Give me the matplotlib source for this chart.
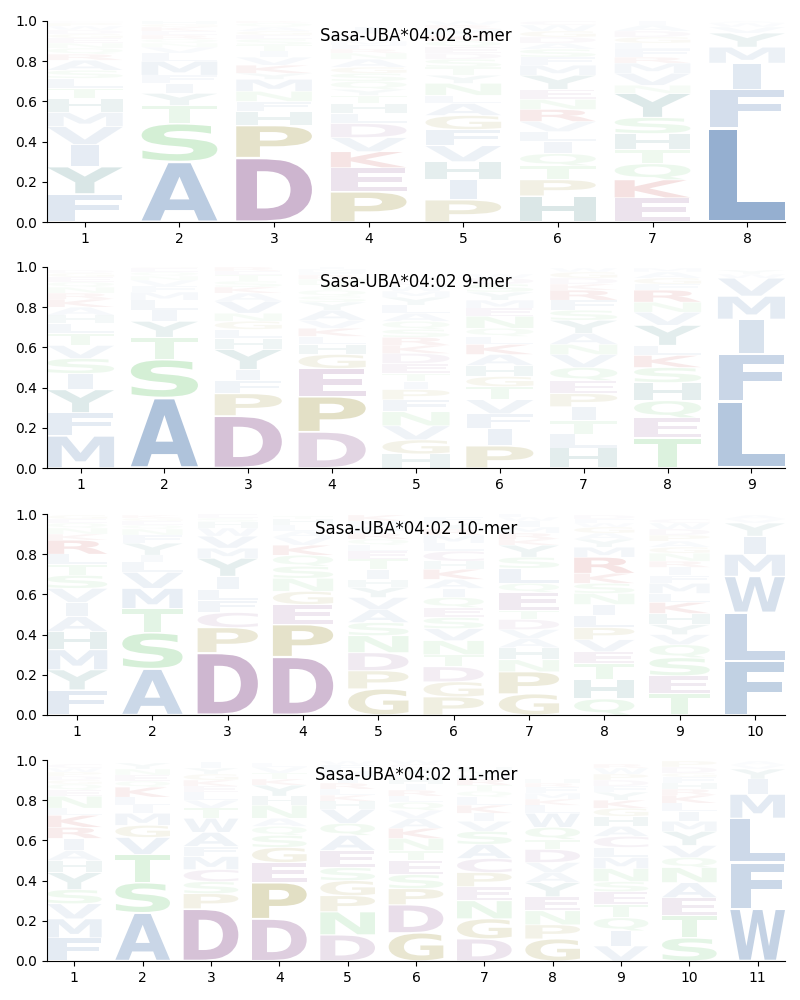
import matplotlib
matplotlib.use('Agg')
import matplotlib.pyplot as plt
from matplotlib.textpath import TextPath
from matplotlib.patches import PathPatch
from matplotlib.font_manager import FontProperties
from matplotlib.transforms import Affine2D

allele = 'Sasa-UBA*04:02'

# each column: (letter, probability) from the bottom of the stack to the top
mer8 = [
    [('F', .14), ('Y', .135), ('I', .11), ('V', .09), ('M', .07), ('H', .07), ('T', .05), ('L', .05), ('S', .04),
     ('A', .05), ('R', .03), ('Q', .03), ('N', .025), ('E', .025), ('G', .02), ('D', .02), ('W', .02), ('P', .015),
     ('C', .01), ('K', .01)],
    [('A', .30), ('S', .19), ('T', .09), ('Y', .06), ('I', .05), ('F', .04), ('M', .07), ('L', .04), ('V', .03),
     ('N', .02), ('Q', .02), ('R', .02), ('E', .02), ('K', .02), ('G', .015), ('H', .015)],
    [('D', .32), ('P', .16), ('H', .07), ('F', .05), ('N', .05), ('M', .06), ('Y', .03), ('K', .04), ('V', .04),
     ('I', .03), ('T', .03), ('S', .03), ('E', .02), ('G', .02), ('A', .02), ('Q', .02), ('R', .01)],
    [('P', .15), ('E', .12), ('K', .08), ('V', .07), ('D', .07), ('L', .05), ('H', .05), ('T', .04), ('Y', .03),
     ('Q', .04), ('S', .04), ('G', .03), ('A', .04), ('N', .03), ('R', .02), ('F', .02), ('M', .02), ('W', .02),
     ('C', .02), ('I', .03)],
    [('P', .11), ('I', .10), ('H', .09), ('V', .08), ('F', .08), ('G', .07), ('A', .06), ('L', .04), ('N', .06),
     ('Y', .04), ('T', .04), ('S', .04), ('D', .03), ('E', .03), ('Q', .03), ('K', .03), ('M', .03), ('R', .02),
     ('W', .02)],
    [('H', .13), ('P', .08), ('T', .07), ('Q', .06), ('I', .06), ('L', .05), ('V', .05), ('R', .06), ('N', .05),
     ('E', .05), ('Y', .07), ('M', .05), ('F', .04), ('S', .04), ('A', .03), ('D', .03), ('G', .03), ('W', .03),
     ('C', .02)],
    [('E', .12), ('K', .09), ('Q', .08), ('T', .07), ('H', .08), ('S', .08), ('Y', .12), ('N', .04), ('V', .06),
     ('M', .05), ('R', .03), ('F', .04), ('L', .03), ('G', .03), ('D', .03), ('A', .03), ('I', .02)],
    [('L', .47), ('F', .19), ('I', .13), ('M', .08), ('Y', .07), ('V', .03), ('W', .02), ('A', .01)],
]

mer9 = [
    [('M', .16), ('F', .115), ('Y', .115), ('I', .08), ('S', .075), ('V', .065), ('T', .06), ('L', .05), ('H', .04),
     ('A', .04), ('K', .04), ('R', .03), ('N', .03), ('Q', .025), ('E', .025), ('G', .02), ('D', .015)],
    [('A', .35), ('S', .19), ('T', .11), ('Y', .08), ('I', .055), ('L', .05), ('M', .04), ('F', .03), ('V', .03),
     ('N', .02), ('Q', .02), ('E', .02), ('G', .01)],
    [('D', .26), ('P', .11), ('F', .065), ('I', .055), ('Y', .10), ('H', .055), ('L', .045), ('G', .04), ('N', .04),
     ('V', .06), ('A', .04), ('K', .03), ('S', .03), ('T', .03), ('E', .02), ('R', .02)],
    [('D', .18), ('P', .175), ('E', .14), ('G', .07), ('H', .05), ('L', .04), ('K', .04), ('V', .04), ('A', .05),
     ('Y', .04), ('S', .03), ('Q', .03), ('T', .03), ('N', .025), ('R', .02), ('F', .015), ('M', .015), ('I', .015)],
    [('H', .07), ('G', .07), ('V', .07), ('N', .07), ('F', .06), ('P', .05), ('I', .04), ('T', .04), ('E', .05),
     ('D', .05), ('K', .04), ('R', .04), ('S', .04), ('Q', .04), ('A', .04), ('L', .04), ('Y', .04), ('M', .03),
     ('W', .03), ('C', .02)],
    [('P', .11), ('I', .085), ('F', .075), ('V', .07), ('T', .065), ('G', .05), ('H', .055), ('A', .055), ('K', .05),
     ('L', .04), ('Q', .04), ('N', .06), ('E', .04), ('M', .04), ('Y', .04), ('S', .04), ('D', .03), ('W', .02)],
    [('H', .10), ('L', .07), ('T', .065), ('I', .07), ('P', .065), ('E', .065), ('Q', .065), ('V', .065), ('N', .05),
     ('A', .055), ('Y', .065), ('S', .05), ('F', .05), ('R', .05), ('K', .03), ('D', .03), ('G', .03), ('W', .02)],
    [('T', .15), ('E', .10), ('Q', .085), ('H', .09), ('S', .075), ('K', .06), ('L', .05), ('Y', .10), ('V', .065),
     ('N', .05), ('R', .06), ('F', .03), ('G', .03), ('A', .03), ('M', .02)],
    [('L', .33), ('F', .24), ('I', .17), ('M', .115), ('V', .09), ('W', .02), ('Y', .02)],
]

mer10 = [
    [('F', .125), ('Y', .10), ('M', .10), ('H', .09), ('A', .075), ('I', .07), ('V', .07), ('S', .065), ('T', .055),
     ('L', .05), ('R', .07), ('K', .03), ('N', .03), ('Q', .025), ('E', .02), ('G', .02)],
    [('A', .23), ('S', .18), ('T', .12), ('M', .10), ('V', .08), ('L', .05), ('I', .035), ('Y', .06), ('F', .04),
     ('N', .03), ('Q', .02), ('E', .02), ('G', .015), ('K', .015)],
    [('D', .31), ('P', .125), ('C', .075), ('F', .06), ('L', .055), ('I', .065), ('Y', .09), ('M', .05), ('V', .06),
     ('W', .04), ('H', .03), ('S', .02), ('E', .02)],
    [('D', .29), ('P', .16), ('E', .10), ('G', .065), ('N', .065), ('S', .06), ('Q', .055), ('K', .05), ('V', .04),
     ('A', .03), ('L', .03), ('H', .03), ('T', .015)],
    [('G', .13), ('P', .09), ('D', .09), ('N', .085), ('S', .065), ('A', .065), ('V', .06), ('Y', .05), ('H', .04),
     ('I', .05), ('T', .05), ('E', .04), ('L', .03), ('Q', .03), ('R', .03), ('F', .03), ('M', .03), ('K', .03)],
    [('P', .09), ('G', .075), ('D', .075), ('T', .06), ('N', .07), ('V', .06), ('S', .055), ('E', .05), ('Q', .05),
     ('I', .045), ('A', .045), ('K', .05), ('H', .04), ('C', .05), ('L', .04), ('M', .04), ('R', .03), ('Y', .03),
     ('F', .03)],
    [('G', .105), ('P', .11), ('N', .06), ('H', .06), ('A', .045), ('V', .045), ('D', .05), ('T', .045), ('E', .09),
     ('Q', .045), ('L', .075), ('S', .055), ('Y', .06), ('K', .03), ('R', .03), ('M', .03), ('I', .03), ('W', .02),
     ('F', .02)],
    [('Q', .08), ('H', .095), ('T', .08), ('E', .06), ('V', .06), ('P', .06), ('L', .06), ('I', .055), ('N', .055),
     ('S', .05), ('K', .05), ('R', .08), ('M', .05), ('Y', .04), ('A', .03), ('G', .03), ('W', .02), ('F', .02),
     ('D', .02)],
    [('T', .105), ('E', .09), ('S', .09), ('Q', .065), ('V', .05), ('Y', .05), ('H', .055), ('K', .055), ('L', .045),
     ('M', .05), ('F', .04), ('I', .04), ('R', .03), ('N', .04), ('G', .03), ('A', .03), ('P', .03), ('D', .03),
     ('W', .03), ('C', .02)],
    [('F', .27), ('L', .24), ('W', .18), ('M', .11), ('I', .09), ('Y', .065), ('V', .02), ('A', .02)],
]

mer11 = [
    [('F', .115), ('M', .095), ('V', .075), ('S', .07), ('Y', .085), ('H', .06), ('A', .05), ('I', .06), ('R', .055),
     ('K', .06), ('L', .035), ('N', .06), ('E', .03), ('Q', .03), ('G', .02), ('D', .02), ('P', .02), ('W', .02),
     ('C', .02)],
    [('A', .24), ('S', .15), ('T', .14), ('V', .085), ('G', .06), ('M', .06), ('I', .04), ('L', .04), ('K', .05),
     ('Q', .03), ('E', .03), ('N', .03), ('Y', .03)],
    [('D', .26), ('P', .075), ('S', .06), ('C', .06), ('M', .065), ('F', .05), ('A', .07), ('W', .07), ('T', .05),
     ('V', .04), ('L', .04), ('E', .03), ('K', .03), ('G', .03), ('Y', .03), ('I', .03)],
    [('D', .21), ('P', .18), ('E', .10), ('G', .075), ('S', .06), ('Q', .045), ('A', .04), ('N', .065), ('H', .045),
     ('Y', .055), ('K', .03), ('T', .03), ('V', .03), ('L', .02)],
    [('D', .13), ('N', .115), ('P', .08), ('G', .075), ('S', .065), ('E', .085), ('A', .075), ('Q', .06), ('V', .07),
     ('H', .04), ('K', .03), ('L', .03), ('R', .03), ('I', .03), ('M', .03), ('F', .03), ('W', .02)],
    [('G', .14), ('D', .14), ('P', .08), ('S', .07), ('E', .07), ('T', .05), ('N', .06), ('K', .05), ('A', .05),
     ('V', .04), ('Q', .04), ('L', .03), ('R', .03), ('I', .03), ('H', .03), ('M', .02), ('Y', .03), ('C', .02),
     ('W', .02)],
    [('D', .11), ('G', .10), ('N', .09), ('E', .07), ('P', .07), ('C', .07), ('A', .07), ('S', .065), ('V', .05),
     ('I', .04), ('K', .04), ('L', .04), ('Q', .03), ('T', .03), ('R', .03), ('M', .02), ('Y', .02), ('H', .02)],
    [('G', .11), ('P', .07), ('N', .07), ('E', .07), ('Y', .07), ('A', .05), ('V', .05), ('D', .065), ('T', .05),
     ('Q', .06), ('W', .07), ('L', .04), ('K', .03), ('M', .03), ('F', .03), ('R', .02), ('H', .02)],
    [('V', .075), ('I', .075), ('Q', .065), ('T', .065), ('E', .065), ('S', .05), ('N', .065), ('M', .055),
     ('L', .05), ('C', .055), ('A', .05), ('H', .05), ('G', .04), ('K', .04), ('Y', .04), ('F', .03), ('D', .03),
     ('P', .03), ('W', .03), ('R', .02)],
    [('S', .115), ('T', .11), ('E', .09), ('A', .075), ('N', .075), ('Q', .05), ('V', .06), ('Y', .07), ('M', .05),
     ('I', .05), ('L', .04), ('K', .04), ('R', .03), ('H', .03), ('F', .03), ('G', .02), ('D', .03), ('P', .03)],
    [('W', .26), ('F', .23), ('L', .22), ('M', .12), ('I', .075), ('Y', .05), ('V', .02), ('A', .02)],
]

colors = {}
for aa in 'AVLIMFW':
    colors[aa] = '#8eaacd'
for aa in 'STNQ':
    colors[aa] = '#8ed593'
for aa in 'DEC':
    colors[aa] = '#b18bb4'
for aa in 'PG':
    colors[aa] = '#b1a75d'
for aa in 'KR':
    colors[aa] = '#c85a5a'
for aa in 'HY':
    colors[aa] = '#74a6a6'

font = FontProperties(family='DejaVu Sans', weight='bold')
width = 0.8
vpad = 0.05
# thin glyphs (I) are not stretched wider than an E would be
e_width = TextPath((0, 0), 'E', size=1, prop=font).get_extents().width


def draw_letter(ax, letter, x, y0, h, color, alpha):
    path = TextPath((0, 0), letter, size=1, prop=font)
    ext = path.get_extents()
    hh = h * (1 - vpad)
    sx = min(width / ext.width, width / e_width)
    w = ext.width * sx
    tr = (Affine2D().translate(-ext.x0, -ext.y0)
          .scale(sx, hh / ext.height)
          .translate(x - w / 2, y0 + h * vpad / 2))
    patch = PathPatch(tr.transform_path(path), facecolor=color, edgecolor='none', alpha=alpha)
    ax.add_patch(patch)


fig = plt.figure(figsize=(8, 10), dpi=100)
panels = [(mer8, '8-mer', 0.778), (mer9, '9-mer', 0.532), (mer10, '10-mer', 0.285), (mer11, '11-mer', 0.039)]

for logo, name, bottom in panels:
    ax = fig.add_axes([0.05875, bottom, 0.9225, 0.201])
    for i, col in enumerate(logo):
        y = 0
        for letter, p in col:
            draw_letter(ax, letter, i + 1, y, p, colors[letter], min(1.0, 2 * p))
            y += p
    n = len(logo)
    ax.set_xlim(0.6, n + 0.4)
    ax.set_ylim(0, 1)
    ax.set_xticks(range(1, n + 1))
    ax.set_yticks([0, 0.2, 0.4, 0.6, 0.8, 1.0])
    ax.set_yticklabels(['0.0', '0.2', '0.4', '0.6', '0.8', '1.0'])
    ax.spines['top'].set_visible(False)
    ax.spines['right'].set_visible(False)
    ax.text(0.5, 0.925, allele + ' ' + name, ha='center', va='center', fontsize=12, transform=ax.transAxes)

fig.savefig('out.png', dpi=100)
